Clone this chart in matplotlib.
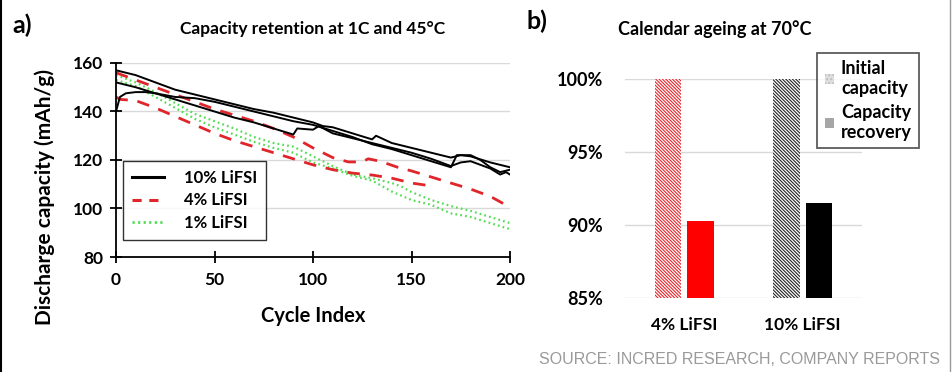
import matplotlib
matplotlib.use("Agg")
import matplotlib.pyplot as plt
from matplotlib.lines import Line2D
from matplotlib.patches import Patch

plt.rcParams['font.family'] = ['Lato', 'DejaVu Sans']
plt.rcParams['font.weight'] = 'bold'
plt.rcParams['hatch.linewidth'] = 0.8

# ---- Panel a data: capacity (mAh/g) vs cycle index ----
b1_x = [0, 10, 20, 30, 40, 50, 60, 70, 80, 90, 100, 105, 110, 120, 130, 132, 140, 150, 160, 170, 175, 180, 190, 200]
b1_y = [157, 155, 152, 149, 147, 145, 143, 141, 139.5, 137.5, 135.5, 134, 133.5, 131, 128.5, 130, 127, 125, 123, 121, 122, 121.5, 119, 117]
b2_x = [0, 10, 20, 30, 40, 50, 60, 70, 80, 90, 92, 100, 103, 110, 120, 130, 140, 150, 160, 170, 175, 180, 185, 190, 195, 198, 200]
b2_y = [152, 150, 147.5, 145, 142.5, 140, 137.5, 135.5, 133, 130.5, 133, 132.5, 134, 131, 129, 127, 125, 123, 120.5, 117.5, 119, 119.5, 118, 116.5, 114, 115, 114]
b3_x = [0, 2, 5, 10, 15, 20, 30, 40, 50, 60, 70, 80, 90, 100, 110, 120, 130, 140, 150, 160, 170, 173, 180, 185, 190, 195, 200]
b3_y = [140, 146, 147.5, 148, 148, 147.5, 146, 145.5, 144, 142, 140, 138, 136, 134.5, 132, 129.5, 126.5, 124.5, 122, 119.5, 117, 122, 122, 120, 117, 115, 116]

r1_x = [0, 10, 20, 30, 40, 50, 60, 70, 80, 90, 100, 110, 118, 125, 128, 134, 143, 150, 160, 170, 180, 190, 200]
r1_y = [156, 153, 150, 147, 144, 141, 138.5, 136, 133, 129.5, 125, 121, 119.2, 119.2, 120.5, 119.5, 117, 115.5, 113, 110.5, 108, 105, 100.5]
r2_x = [0, 2, 10, 20, 30, 40, 50, 60, 70, 80, 90, 100, 110, 120, 130, 140, 150, 160]
r2_y = [146, 145, 144.5, 141.5, 138, 134.5, 131, 128, 125.5, 123, 120.5, 118, 116, 114.6, 113.8, 112.5, 110.5, 109.3]

g1_x = [0, 10, 20, 30, 40, 50, 60, 70, 80, 90, 100, 110, 120, 130, 140, 145, 150, 160, 170, 180, 190, 200]
g1_y = [155, 152, 148, 143.5, 139, 136, 133, 129.5, 127, 125.5, 121.5, 117.5, 114, 112.5, 110.5, 109, 106.8, 103.5, 101, 99, 96.5, 94]
g2_x = [0, 10, 20, 30, 40, 50, 60, 70, 80, 90, 100, 110, 120, 130, 140, 150, 160, 170, 180, 190, 200]
g2_y = [153, 150.5, 146, 141.5, 137, 133.5, 130.5, 127.5, 125, 123, 119, 116.5, 113.5, 111.5, 107, 103.5, 101.5, 98, 96.5, 94, 91.5]

series_labels = ['10% LiFSI', '4% LiFSI', '1% LiFSI']

# ---- Panel b data: relative capacity ----
bar_categories = ['4% LiFSI', '10% LiFSI']
initial_capacity = [100, 100]
capacity_recovery = [90.3, 91.5]
legend_b = ['Initial\ncapacity', 'Capacity\nrecovery']

W, H = 952, 372
fig = plt.figure(figsize=(W / 100, H / 100), dpi=100)

def ax_rect(l, t, r, b):
    return [l / W, 1 - b / H, (r - l) / W, (b - t) / H]

# ---------------- Panel a ----------------
ax = fig.add_axes(ax_rect(116, 63, 510, 257))
black_kw = dict(color='black', lw=1.4)
red_kw = dict(color='#e0262b', lw=2.0, dashes=(4.5, 3.5))
green_kw = dict(color='#55dd55', lw=1.6, dashes=(0.8, 1.4))
ax.plot(g1_x, g1_y, **green_kw)
ax.plot(g2_x, g2_y, **green_kw)
ax.plot(r1_x, r1_y, **red_kw)
ax.plot(r2_x, r2_y, **red_kw)
ax.plot(b1_x, b1_y, **black_kw)
ax.plot(b2_x, b2_y, **black_kw)
ax.plot(b3_x, b3_y, **black_kw)

ax.set_xlim(0, 200)
ax.set_ylim(80, 160)
ax.set_xticks([0, 50, 100, 150, 200])
ax.set_yticks([80, 100, 120, 140, 160])
ax.grid(axis='y', color='#d9d9d9', lw=1.0)
ax.set_axisbelow(True)
for s in ['top', 'right']:
    ax.spines[s].set_visible(False)
for s in ['left', 'bottom']:
    ax.spines[s].set_linewidth(1.3)
ax.tick_params(direction='inout', length=8, width=1.3, labelsize=12.5, pad=5)
ax.tick_params(axis='x', pad=7)
for lab in ax.get_xticklabels() + ax.get_yticklabels():
    lab.set_fontweight('bold')
ax.set_xlabel('Cycle Index', fontsize=14.5, fontweight='bold', labelpad=13)
ax.set_ylabel('Discharge capacity (mAh/g)', fontsize=15, fontweight='bold', labelpad=5)
ax.yaxis.set_label_coords(-0.155, 0.31)
ax.set_title('Capacity retention at 1C and 45°C', fontsize=12.5, fontweight='bold', pad=21)

handles = [Line2D([], [], color='black', lw=2.2),
           Line2D([], [], color='#e0262b', lw=2.2, dashes=(3, 2.5)),
           Line2D([], [], color='#55dd55', lw=2.0, dashes=(0.8, 1.2))]
leg = ax.legend(handles, series_labels, loc='lower left', bbox_to_anchor=(0.018, 0.088),
                borderaxespad=0, frameon=True, fancybox=False, edgecolor='black',
                handlelength=1.9, handletextpad=1.2, borderpad=0.55, labelspacing=0.38,
                prop={'weight': 'bold', 'size': 12})
leg.get_frame().set_linewidth(1.0)

# ---------------- Panel b ----------------
bx = fig.add_axes(ax_rect(625, 79, 862, 298))
xpos = list(range(len(bar_categories)))
bw = 0.225
off = 0.137
init_colors = ['#e8262b', '#222222']
rec_colors = ['#ff0000', '#000000']
for i, x in enumerate(xpos):
    bx.bar(x - off, initial_capacity[i] - 85, bottom=85, width=bw, facecolor='white',
           edgecolor=init_colors[i], hatch='\\' * 10, lw=0)
    bx.bar(x + off, capacity_recovery[i] - 85, bottom=85, width=bw, color=rec_colors[i], lw=0)
bx.set_xlim(-0.5, 1.5)
bx.set_ylim(85, 100)
bx.set_yticks([85, 90, 95, 100])
bx.set_yticklabels([f'{v}%' for v in [85, 90, 95, 100]])
bx.set_xticks(xpos)
bx.set_xticklabels(bar_categories)
bx.grid(axis='y', color='#d9d9d9', lw=1.0)
bx.set_axisbelow(True)
for s in bx.spines.values():
    s.set_visible(False)
bx.tick_params(length=0, labelsize=13, pad=16)
bx.tick_params(axis='x', pad=14, labelsize=12.5)
for lab in bx.get_xticklabels() + bx.get_yticklabels():
    lab.set_fontweight('bold')
bx.set_title('Calendar ageing at 70°C', fontsize=13, fontweight='bold', pad=32,
             loc='left', x=-0.03)

hb = [Patch(facecolor='#dddddd', edgecolor='#bbbbbb', hatch='....', lw=0),
      Patch(facecolor='#a6a6a6', lw=0)]
legb = bx.legend(hb, legend_b, loc='upper right', bbox_to_anchor=(1.2405, 1.1187),
                 borderaxespad=0, frameon=True, fancybox=False, edgecolor='#333333',
                 handlelength=0.5, handleheight=0.5, handletextpad=0.4,
                 borderpad=0.4, labelspacing=0.4,
                 prop={'weight': 'bold', 'size': 13})
legb.get_frame().set_linewidth(1.3)

# panel labels and source
fig.text(12 / W, 1 - 25 / H, 'a)', fontsize=18, fontweight='bold', va='center', ha='left')
fig.text(527 / W, 1 - 21 / H, 'b)', fontsize=18, fontweight='bold', va='center', ha='left')
fig.text(940 / W, 1 - 360 / H, 'SOURCE: INCRED RESEARCH, COMPANY REPORTS', fontsize=11.5,
         color='#9a9a9a', ha='right', va='center', family=['Liberation Sans', 'DejaVu Sans'],
         fontweight='normal')

# border lines of the picture
fig.add_artist(Line2D([1 / W, 1 / W], [0, 1], color='black', lw=1.5, transform=fig.transFigure))
fig.add_artist(Line2D([949.5 / W, 949.5 / W], [0, 1], color='#999999', lw=1.0, transform=fig.transFigure))

fig.savefig('out.png', dpi=100)
